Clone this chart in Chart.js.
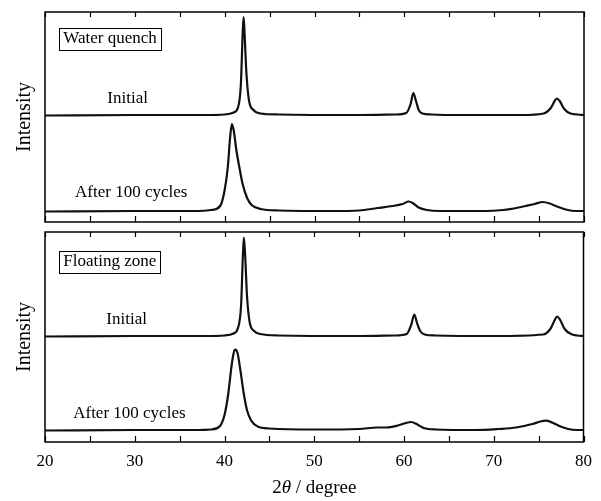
<!DOCTYPE html>
<html>
<head>
<meta charset="utf-8">
<script src="https://cdn.jsdelivr.net/npm/chart.js@4.4.1/dist/chart.umd.min.js"></script>
<style>
html, body { margin: 0; padding: 0; background: #fff; }
#wrap { position: relative; width: 601px; height: 501px; }
#top-box { position: absolute; left: 0; top: 0; width: 601px; height: 228px; }
#bot-box { position: absolute; left: 0; top: 228px; width: 601px; height: 273px; }
</style>
</head>
<body>
<div id="wrap">
  <div id="top-box"><canvas id="top-chart"></canvas></div>
  <div id="bot-box"><canvas id="bot-chart"></canvas></div>
</div>
<script>
/* XRD patterns: water quench / floating zone, initial vs after 100 cycles */

const xTicks = [20, 30, 40, 50, 60, 70, 80];

// Water quench - Initial
const wqInitX = [20, 30, 38, 40, 41, 41.5, 41.8, 42.0, 42.1, 42.2, 42.4, 42.7, 43.2, 44, 46, 55, 59, 60.2, 60.7, 61.0, 61.3, 61.6, 62.0, 63, 66, 73, 75.5, 76.3, 76.8, 77.0, 77.3, 77.8, 78.5, 79.3, 80];
const wqInitY = [106.5, 107, 107, 107.5, 109.5, 115, 137, 187, 205, 192, 152, 122, 112, 108.5, 107.5, 107, 107.5, 109, 118, 129, 121, 112, 108.5, 107.5, 107, 107, 108.5, 114, 122, 123.5, 121, 113, 108.5, 107.5, 107];

// Water quench - After 100 cycles
const wqAfterX = [20, 30, 37, 38.5, 39.5, 40.0, 40.35, 40.6, 40.8, 41.0, 41.3, 41.65, 42.0, 42.5, 43.0, 44, 46, 52, 55, 57, 58.7, 59.8, 60.5, 61.0, 61.6, 62.5, 64, 69, 71, 72.2, 73.5, 74.5, 75.4, 76.2, 77, 78.2, 79, 80];
const wqAfterY = [10.5, 11, 11, 12, 16, 32, 55, 84, 98, 92, 72, 54, 38, 24, 17, 13, 11.5, 11, 11.5, 14, 16, 18, 20.5, 18.5, 14.5, 12, 11, 11, 12, 13.5, 16, 18, 20, 18.5, 15.5, 12, 11, 11];

// Floating zone - Initial
const fzInitX = [20, 30, 38, 40, 41, 41.5, 41.85, 42.05, 42.16, 42.3, 42.5, 42.8, 43.3, 44, 46, 55, 59, 60.3, 60.8, 61.15, 61.45, 61.8, 62.3, 63.5, 70, 75.5, 76.3, 76.8, 77.05, 77.4, 77.9, 78.6, 79.3, 80];
const fzInitY = [105.5, 106, 106, 106.5, 108.5, 114, 137, 187, 204.5, 187, 147, 120, 111, 108, 106.5, 106, 106.5, 108, 117, 127.5, 119, 111, 107.5, 106.5, 106, 107.5, 113, 122, 125.5, 122, 113, 108, 106.5, 106];

// Floating zone - After 100 cycles
const fzAfterX = [20, 30, 37, 38.5, 39.5, 40.0, 40.4, 40.8, 41.05, 41.23, 41.45, 41.8, 42.1, 42.5, 43.0, 43.7, 45, 50, 55, 57, 58, 59.3, 60.2, 60.8, 61.4, 62.2, 63.5, 68, 70.5, 72.5, 74.3, 75.2, 75.8, 76.5, 77.3, 78.3, 79.2, 80];
const fzAfterY = [11.5, 12, 12, 12.5, 16, 27, 47, 77, 90, 92.5, 89, 70, 51, 32, 21, 15.5, 13.5, 12.5, 13, 14.5, 14.5, 16.5, 19, 20, 18, 14, 12.5, 12, 13, 14.5, 18, 20.5, 21.3, 19.5, 16, 13, 12, 12];

const SERIF = '"Liberation Serif", "Times New Roman", serif';

function toPoints(xs, ys) {
    return xs.map((x, i) => ({ x: x, y: ys[i] }));
}

function trace(xs, ys) {
    return {
        data: toPoints(xs, ys),
        borderColor: '#111',
        borderWidth: 2.2,
        pointRadius: 0,
        cubicInterpolationMode: 'monotone',
        fill: false,
    };
}

// frame, inward ticks, labels, boxed title, axis texts
function framePlugin(cfg) {
    return {
        id: 'frame',
        afterDraw(chart) {
            const ctx = chart.ctx;
            const a = chart.chartArea;
            const x = chart.scales.x, y = chart.scales.y;
            ctx.save();
            ctx.strokeStyle = '#000';
            ctx.lineWidth = 1.5;
            ctx.strokeRect(a.left, a.top, a.right - a.left, a.bottom - a.top);
            ctx.beginPath();
            for (let v = xTicks[0]; v <= xTicks[xTicks.length - 1]; v += 5) {
                const px = Math.round(x.getPixelForValue(v)) + 0.5;
                ctx.moveTo(px, a.top); ctx.lineTo(px, a.top + 5);
                ctx.moveTo(px, a.bottom); ctx.lineTo(px, a.bottom - 6);
            }
            ctx.lineWidth = 1.2;
            ctx.stroke();

            ctx.fillStyle = '#000';
            ctx.textAlign = 'center';
            ctx.textBaseline = 'middle';
            ctx.font = '17px ' + SERIF;
            cfg.labels.forEach(l => {
                ctx.fillText(l.text, x.getPixelForValue(l.x), y.getPixelForValue(l.y));
            });

            // boxed sample name
            ctx.font = '17px ' + SERIF;
            ctx.textAlign = 'left';
            const bx = x.getPixelForValue(cfg.box.x);
            const by = y.getPixelForValue(cfg.box.y);
            const w = ctx.measureText(cfg.box.text).width;
            ctx.fillText(cfg.box.text, bx, by);
            ctx.lineWidth = 1;
            ctx.strokeRect(Math.round(bx - 4) + 0.5, Math.round(by - 11) + 0.5, Math.round(w + 8), 22);

            // y axis title
            ctx.save();
            ctx.translate(25, (a.top + a.bottom) / 2);
            ctx.rotate(-Math.PI / 2);
            ctx.textAlign = 'center';
            ctx.font = '20px ' + SERIF;
            ctx.fillText('Intensity', 0, 0);
            ctx.restore();

            if (cfg.xTitle) {
                const parts = [
                    { t: '2', f: '19px ' + SERIF },
                    { t: '\u03B8', f: 'italic 19px ' + SERIF },
                    { t: ' / degree', f: '19px ' + SERIF },
                ];
                let total = 0;
                parts.forEach(p => { ctx.font = p.f; p.w = ctx.measureText(p.t).width; total += p.w; });
                let cx = (a.left + a.right) / 2 - total / 2;
                ctx.textAlign = 'left';
                parts.forEach(p => { ctx.font = p.f; ctx.fillText(p.t, cx, cfg.xTitleY); cx += p.w; });
            }
            ctx.restore();
        }
    };
}

function makePanel(id, datasets, cfg, showAxis, padding) {
    const xScale = {
        type: 'linear', min: 20, max: 80,
        display: showAxis,
        grid: { display: false, drawTicks: false },
        border: { display: false },
        ticks: {
            stepSize: 10, color: '#000', padding: 9, maxRotation: 0,
            font: { family: SERIF, size: 17 },
        },
    };
    if (showAxis) xScale.afterFit = s => { s.height = 59; };
    return new Chart(document.getElementById(id), {
        type: 'line',
        data: { datasets: datasets },
        options: {
            responsive: true,
            maintainAspectRatio: false,
            animation: false,
            layout: { padding: padding },
            scales: {
                x: xScale,
                y: { type: 'linear', min: 0, max: 210, display: false },
            },
            plugins: { legend: { display: false }, tooltip: { enabled: false } },
        },
        plugins: [framePlugin(cfg)],
    });
}

makePanel('top-chart',
    [trace(wqInitX, wqInitY), trace(wqAfterX, wqAfterY)],
    {
        labels: [{ text: 'Initial', x: 29.2, y: 123 }, { text: 'After 100 cycles', x: 29.6, y: 29.3 }],
        box: { text: 'Water quench', x: 22.04, y: 183 },
    },
    false, { left: 45, right: 17, top: 12, bottom: 6 });

makePanel('bot-chart',
    [trace(fzInitX, fzInitY), trace(fzAfterX, fzAfterY)],
    {
        labels: [{ text: 'Initial', x: 29.1, y: 122 }, { text: 'After 100 cycles', x: 29.4, y: 28 }],
        box: { text: 'Floating zone', x: 22.04, y: 180 },
        xTitle: true, xTitleY: 260,
    },
    true, { left: 45, right: 17, top: 4, bottom: 0 });
</script>
</body>
</html>
